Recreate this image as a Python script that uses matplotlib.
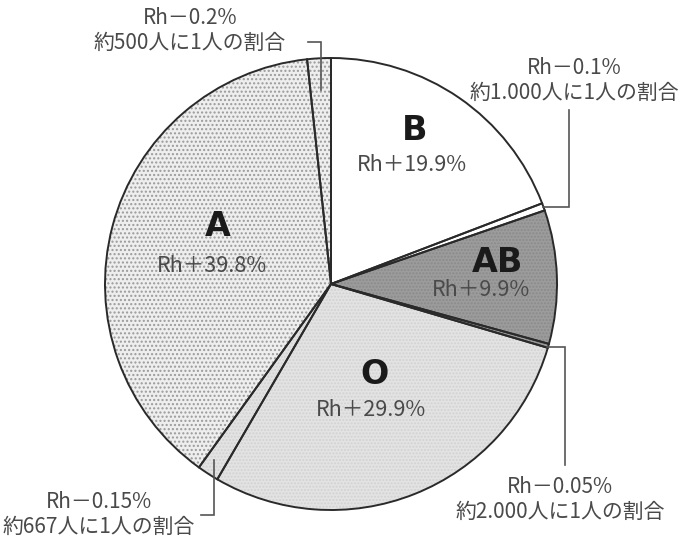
import matplotlib
matplotlib.use("Agg")
import matplotlib.pyplot as plt

plt.rcParams['font.family'] = ['Noto Sans CJK JP', 'DejaVu Sans']

# blood groups, clockwise from 12 o'clock
groups = ['B', 'B', 'AB', 'AB', 'O', 'O', 'A', 'A']
rh = ['+', '-', '+', '-', '+', '-', '+', '-']
percent = [19.9, 0.1, 9.9, 0.05, 29.9, 0.15, 39.8, 0.2]
# share as drawn in the picture (the Rh- slivers are widened so they show)
drawn = [19.9, 0.55, 9.9, 0.3, 29.9, 1.6, 39.8, 1.75]
rare = {0.1: '1.000', 0.05: '2.000', 0.15: '667', 0.2: '500'}

fill = {'A': '#eeeeee', 'B': '#ffffff', 'AB': '#9c9c9c', 'O': '#e3e3e3'}
dots = {'A': '#9a9a9a', 'B': '#ffffff', 'AB': '#8a8a8a', 'O': '#d2d2d2'}

W, H = 681, 539
fig = plt.figure(figsize=(W / 100, H / 100), dpi=100)
ax = fig.add_axes([0, 0, 1, 1])


def px(x, y):
    return x, H - y


cx, cy = px(331, 284)
R = 226

# fills with stipple (hatch colour follows the edge colour)
wedges, _ = ax.pie(drawn, startangle=90, counterclock=False, center=(cx, cy),
                   radius=R, frame=True)
for w, g in zip(wedges, groups):
    w.set_facecolor(fill[g])
    w.set_edgecolor(dots[g])
    w.set_linewidth(0)
    if g in ('A', 'AB', 'O'):
        w.set_hatch('....' if g == 'A' else '.....')

# outlines
outl, _ = ax.pie(drawn, startangle=90, counterclock=False, center=(cx, cy),
                 radius=R, frame=True,
                 wedgeprops=dict(facecolor='none', edgecolor='#2a2a2a', linewidth=1.4))
ax.set_xlim(0, W)
ax.set_ylim(0, H)
ax.set_aspect('equal')
ax.axis('off')

txt = '#4a4a4a'

# main labels
big = {'A': (218, 227), 'B': (415, 130), 'AB': (498, 262), 'O': (374, 374)}
sub = {'A': (212, 266), 'B': (412, 165), 'AB': (481, 290), 'O': (371, 410)}
for g, r, p in zip(groups, rh, percent):
    if r != '+':
        continue
    ax.text(*px(*big[g]), g, ha='center', va='center', fontsize=24,
            fontweight='bold', color='#1a1a1a', family='DejaVu Sans')
    ax.text(*px(*sub[g]), f'Rh＋{p}%', ha='center', va='center',
            fontsize=15.5, color=txt)

# call-outs for the Rh- slivers
callout_text = {'B': (574, 68), 'AB': (560, 487), 'O': (99, 502), 'A': (190, 18)}
leaders = {
    'A': [(321, 90), (321, 42), (308, 42)],
    'B': [(543, 207), (569, 207), (569, 110)],
    'AB': [(547, 347), (565, 347), (565, 465)],
    'O': [(214, 460), (214, 515), (201, 515)],
}
for g, r, p in zip(groups, rh, percent):
    if r != '-':
        continue
    xs, ys = zip(*[px(x, y) for x, y in leaders[g]])
    ax.plot(xs, ys, color='#555555', lw=1.2, solid_joinstyle='miter')
    tx, ty = callout_text[g]
    ax.text(*px(tx, ty), f'Rh－{p}%', ha='center', va='center',
            fontsize=15, color=txt)
    ax.text(*px(tx, ty + 25), f'約{rare[p]}人に1人の割合', ha='center',
            va='center', fontsize=15, color=txt)

fig.savefig('out.png', dpi=100)
